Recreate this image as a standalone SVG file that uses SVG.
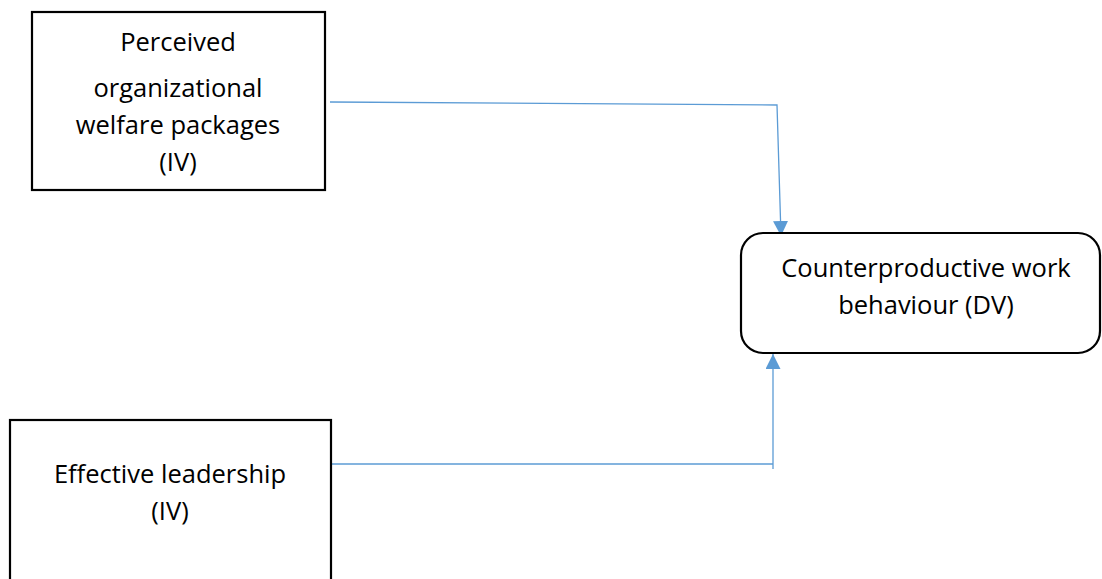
<svg xmlns="http://www.w3.org/2000/svg" width="1102" height="579" viewBox="0 0 1102 579">
<style>
.box{fill:#fff;stroke:#000;stroke-width:2.2}
.lbl{font-family:"Open Sans","Noto Sans",sans-serif;font-size:25.5px;fill:#000;text-anchor:middle}
.con{fill:none;stroke:#5b9bd5;stroke-width:1.3}
</style>
<defs>
<marker id="ah" markerWidth="16" markerHeight="16" refX="15" refY="7.5" orient="auto" markerUnits="userSpaceOnUse">
<path d="M0,0 L15,7.5 L0,15 Z" fill="#5b9bd5"/>
</marker>
</defs>
<rect width="1102" height="579" fill="#fff"/>
<g id="connectors">
<path class="con" d="M330,102 L777,105 L781,236" marker-end="url(#ah)"/>
<path class="con" d="M331,464 L773,464"/>
<path class="con" d="M773,469 L773,354" marker-end="url(#ah)"/>
</g>
<g id="node-welfare">
<rect class="box" x="32" y="12" width="293" height="178"/>
<text class="lbl" x="178" y="51">Perceived</text>
<text class="lbl" x="178" y="97">organizational</text>
<text class="lbl" x="178" y="134">welfare packages</text>
<text class="lbl" x="178" y="171">(IV)</text>
</g>
<g id="node-leadership">
<rect class="box" x="10" y="420" width="321" height="170"/>
<text class="lbl" x="170" y="483">Effective leadership</text>
<text class="lbl" x="170" y="520">(IV)</text>
</g>
<g id="node-cwb">
<rect class="box" x="741" y="233" width="359" height="120" rx="22" ry="22"/>
<text class="lbl" x="926" y="277">Counterproductive work</text>
<text class="lbl" x="926" y="314">behaviour (DV)</text>
</g>
</svg>
